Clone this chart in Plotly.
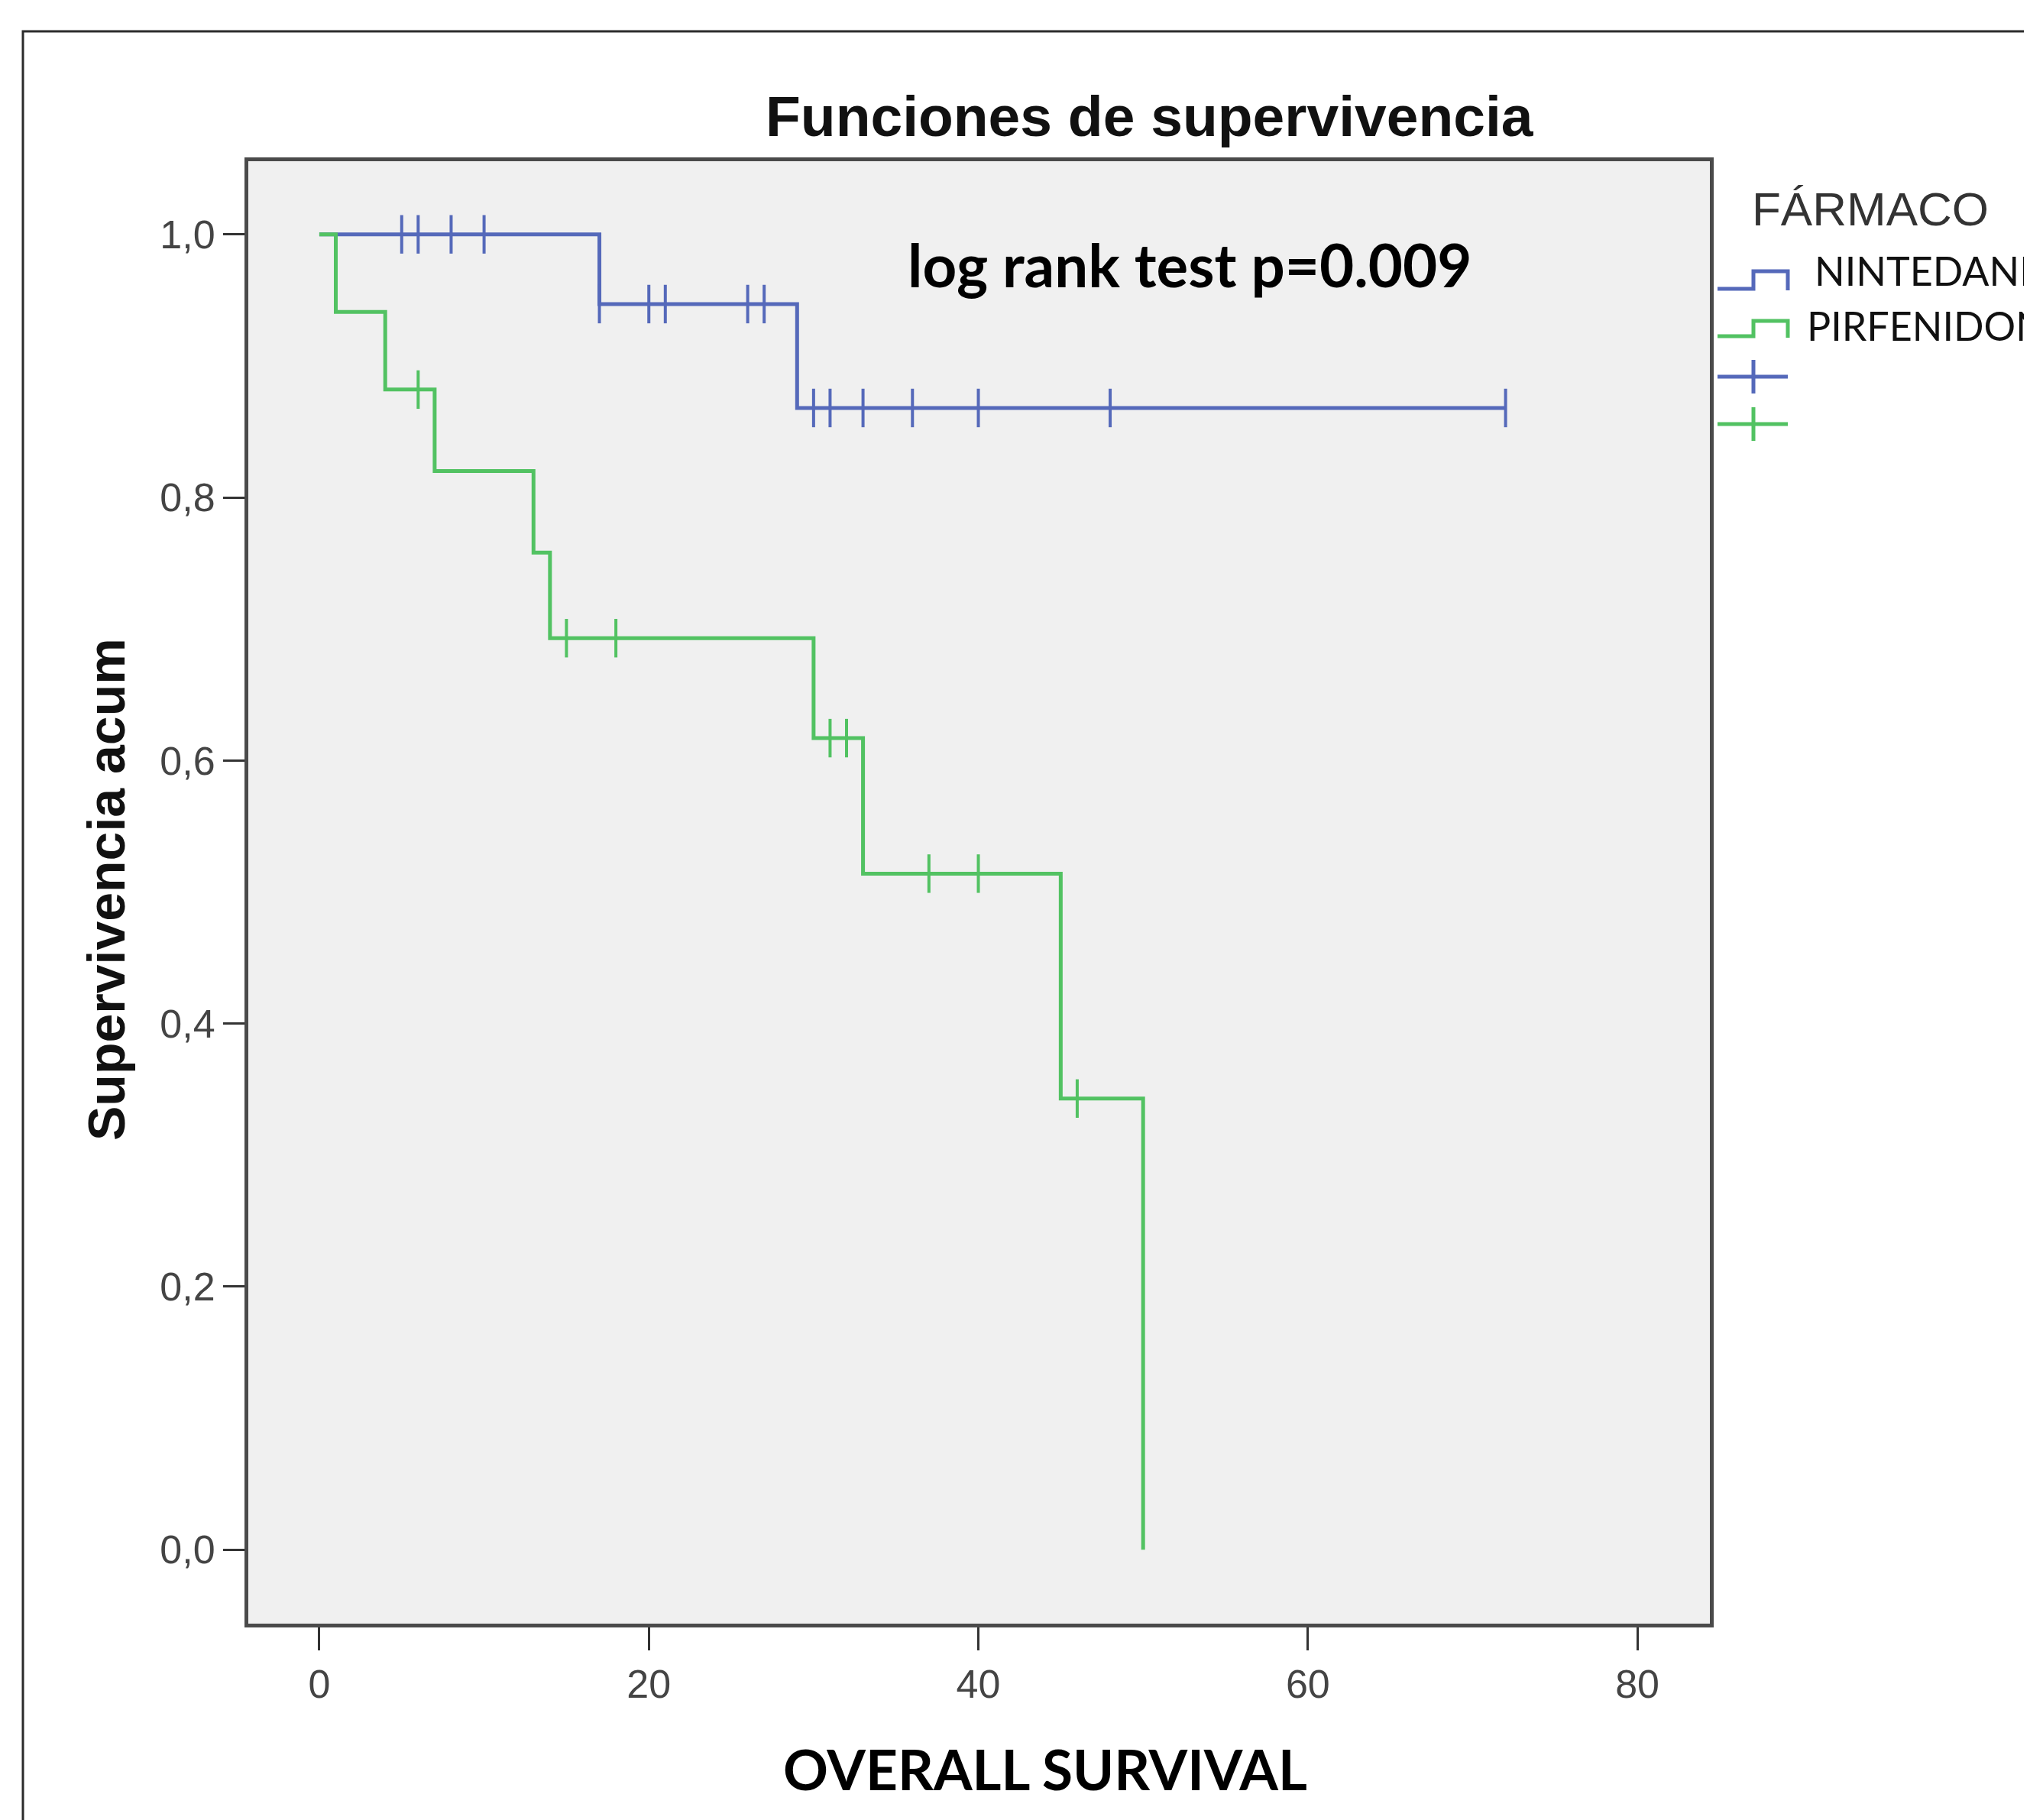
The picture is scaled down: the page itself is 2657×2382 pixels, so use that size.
import plotly.graph_objects as go

# ---------------- data ----------------
groups = ["NINTEDANIB", "PIRFENIDONA"]

# Kaplan-Meier step functions: event times and survival after each step
nint_times = [0, 17, 29, 72]
nint_surv = [1.0, 0.947, 0.868, 0.868]
nint_censored = [5, 6, 8, 10, 17, 20, 21, 26, 27, 30, 31, 33, 36, 40, 48, 72]

pirf_times = [0, 1, 4, 7, 13, 14, 30, 33, 45, 50]
pirf_surv = [1.0, 0.941, 0.882, 0.820, 0.758, 0.693, 0.617, 0.514, 0.343, 0.0]
pirf_censored = [6, 15, 18, 31, 32, 37, 40, 46]

x_ticks = [0, 20, 40, 60, 80]
y_ticks = [0.0, 0.2, 0.4, 0.6, 0.8, 1.0]

title_text = "Funciones de supervivencia"
x_title = "OVERALL SURVIVAL"
y_title = "Supervivencia acum"
legend_title = "FÁRMACO"
annot_text = "log rank test p=0.009"

# ---------------- styling ----------------
W, H = 2657, 2382
OFF = 8  # page body margin
L, R, T, B = 325 - OFF, 2238 - OFF, 211 - OFF, 2125 - OFF
BLUE = "#5569ba"
GREEN = "#52c262"


def surv_at(t, times, surv):
    s = surv[0]
    for ti, si in zip(times, surv):
        if ti <= t:
            s = si
    return s


def px(x):
    return (x - OFF - L) / (R - L)


def py(y):
    return (B - (y - OFF)) / (B - T)


fig = go.Figure()

series = [
    (groups[0], nint_times, nint_surv, nint_censored, BLUE),
    (groups[1], pirf_times, pirf_surv, pirf_censored, GREEN),
]
for name, times, surv, cens, col in series:
    fig.add_trace(go.Scatter(
        x=times, y=surv, mode="lines", line=dict(shape="hv", color=col, width=5),
        name=name, showlegend=False, hoverinfo="skip"))
for name, times, surv, cens, col in series:
    fig.add_trace(go.Scatter(
        x=cens, y=[surv_at(t, times, surv) for t in cens], mode="markers",
        marker=dict(symbol="line-ns", size=36, color=col, line=dict(width=4, color=col)),
        name=name + " censurado", showlegend=False, hoverinfo="skip"))

shapes = []
# outer figure border (left and top edges visible)
shapes.append(dict(type="rect", xref="paper", yref="paper",
                   x0=px(30), x1=px(2800), y0=py(2500), y1=py(41),
                   line=dict(color="#2b2b2b", width=3), fillcolor="rgba(0,0,0,0)", layer="below"))

# manual legend icons
def step_icon(y_low, y_high, col):
    return dict(type="path", xref="paper", yref="paper",
                path=(f"M {px(2248)},{py(y_low)} L {px(2295)},{py(y_low)} "
                      f"L {px(2295)},{py(y_high)} L {px(2340)},{py(y_high)} L {px(2340)},{py(y_low + 2)}"),
                line=dict(color=col, width=5))

def cens_icon(yc, col):
    return [dict(type="line", xref="paper", yref="paper", x0=px(2248), x1=px(2340),
                 y0=py(yc), y1=py(yc), line=dict(color=col, width=5)),
            dict(type="line", xref="paper", yref="paper", x0=px(2295), x1=px(2295),
                 y0=py(yc - 22), y1=py(yc + 22), line=dict(color=col, width=5))]

shapes.append(step_icon(378, 355, BLUE))
shapes.append(step_icon(440, 420, GREEN))
shapes += cens_icon(493, BLUE)
shapes += cens_icon(555, GREEN)

annotations = [
    dict(text="<b>" + title_text + "</b>", xref="paper", yref="paper", x=px(1505), y=py(152),
         xanchor="center", yanchor="middle", showarrow=False,
         font=dict(family="Liberation Sans", size=75, color="#111"), ),
    dict(text="<b>" + annot_text + "</b>", xref="x", yref="y", x=52.8, y=0.977,
         xanchor="center", yanchor="middle", showarrow=False,
         font=dict(family="Lato", size=78, color="#000")),
    dict(text="<b>" + x_title + "</b>", xref="paper", yref="paper", x=px(1368), y=py(2315),
         xanchor="center", yanchor="middle", showarrow=False,
         font=dict(family="Lato", size=73, color="#000")),
    dict(text="<b>" + y_title + "</b>", xref="paper", yref="paper", x=px(139), y=py(1164),
         xanchor="center", yanchor="middle", showarrow=False, textangle=-90,
         font=dict(family="Liberation Sans", size=68, color="#111")),
    dict(text=legend_title, xref="paper", yref="paper", x=px(2291), y=py(273),
         xanchor="left", yanchor="middle", showarrow=False,
         font=dict(family="Liberation Sans", size=62, color="#333")),
    dict(text=groups[0], xref="paper", yref="paper", x=px(2373), y=py(354),
         xanchor="left", yanchor="middle", showarrow=False,
         font=dict(family="Lato", size=52, color="#111")),
    dict(text=groups[1], xref="paper", yref="paper", x=px(2363), y=py(426),
         xanchor="left", yanchor="middle", showarrow=False,
         font=dict(family="Lato", size=52, color="#111")),
]

fig.update_layout(
    width=W, height=H,
    margin=dict(l=L, r=W - R, t=T, b=H - B, pad=0),
    paper_bgcolor="white", plot_bgcolor="#f0f0f0",
    separators=",.",
    showlegend=False,
    shapes=shapes,
    annotations=annotations,
    font=dict(family="Liberation Sans", color="#333"),
)
fig.update_xaxes(
    range=[-4.31, 84.4], tickvals=x_ticks, ticks="outside", ticklen=30, tickwidth=3,
    tickcolor="#333", showgrid=False, zeroline=False, showline=True, mirror=True,
    linecolor="#4a4a4a", linewidth=5, tickfont=dict(family="Liberation Sans", size=52, color="#444"),
)
fig.update_yaxes(
    range=[-0.0562, 1.0556], tickvals=y_ticks, tickformat=".1f", ticks="outside", ticklen=28,
    tickwidth=3, tickcolor="#333", showgrid=False, zeroline=False, showline=True, mirror=True,
    linecolor="#4a4a4a", linewidth=5, tickfont=dict(family="Liberation Sans", size=52, color="#444"),
)

fig.write_html("out.html")
